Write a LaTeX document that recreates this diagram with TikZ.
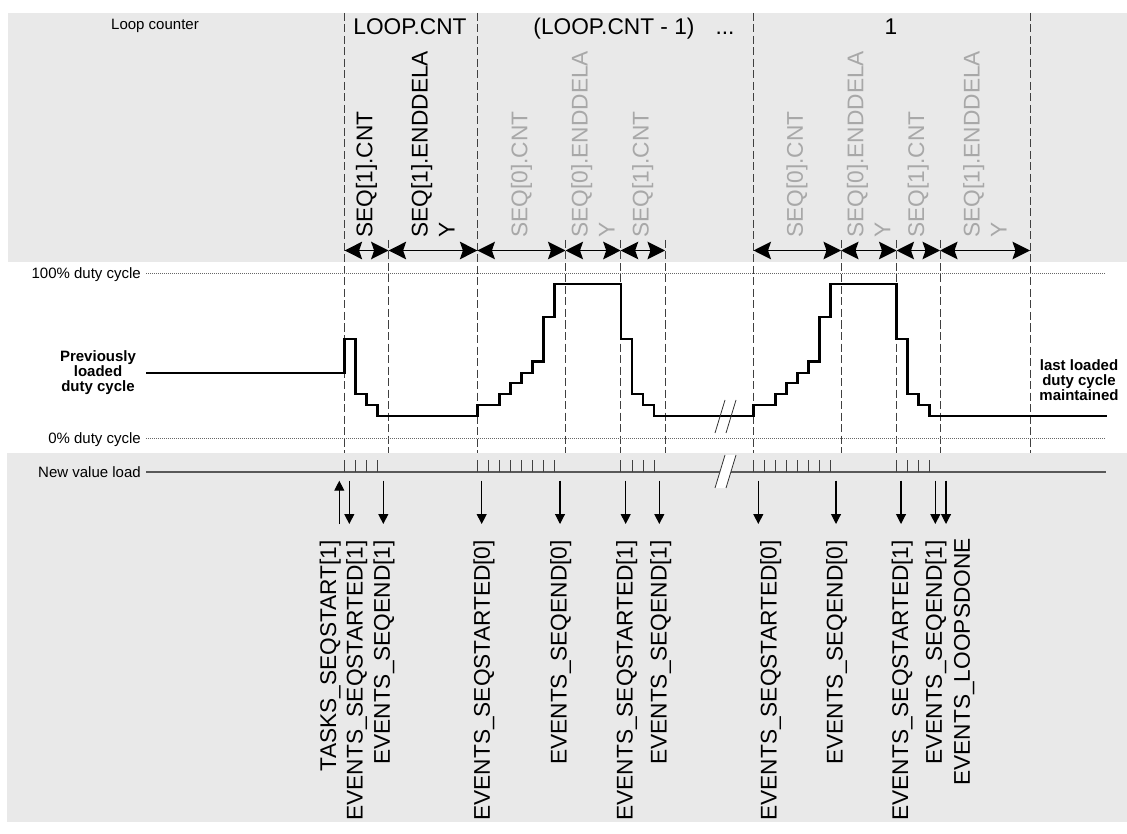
\documentclass[tikz,border=0pt]{standalone}
\usepackage{fontspec}
\setmainfont{Liberation Sans}
\usetikzlibrary{arrows.meta}
\definecolor{panel}{RGB}{233,233,233}
\definecolor{ghost}{RGB}{168,168,168}
\begin{document}
\begin{tikzpicture}[x=1pt,y=-1pt,
  big/.style={font=\fontsize{22.7}{27}\selectfont, inner sep=0pt},
  small/.style={font=\fontsize{15}{15}\selectfont, inner sep=0pt},
  boldlbl/.style={font=\fontsize{15}{15}\selectfont\bfseries, align=center, inner sep=0pt},
  seglbl/.style={big, rotate=90, anchor=west, align=left},
  evlbl/.style={big, rotate=90, anchor=base east},
  divider/.style={draw=black!75, line width=0.9pt, dash pattern=on 8pt off 3.5pt},
  span/.style={arrows={Stealth[length=17.5pt,width=17.5pt,inset=3pt]-Stealth[length=17.5pt,width=17.5pt,inset=3pt]}, line width=1.7pt},
  evarrow/.style={arrows={-Triangle[length=10pt,width=10pt]}, line width=1.1pt},
  level/.style={draw=black!60, line width=0.8pt, dash pattern=on 1pt off 1pt},
  wave/.style={line width=2.3pt, line join=miter},
  tickmark/.style={draw=black!75, line width=0.8pt},
  breakline/.style={draw=black!80, line width=0.8pt},
]
\useasboundingbox (0,0) rectangle (1127,834);
\fill[white] (0,0) rectangle (1127,834);
% panels
\fill[panel] (8,13) rectangle (1127,262);
\fill[panel] (7,453) rectangle (1127,822);

% dashed dividers (full height)
\foreach \x [count=\i] in {344.6,477.4,753.5,1030} {
  \coordinate (ft\i) at (\x,13);
  \coordinate (fb\i) at (\x,453);
  \draw[divider] (ft\i) -- (fb\i);
}
% dashed dividers (short)
\foreach \x [count=\i] in {388.6,565.5,620.7,665,841,896.5,940} {
  \coordinate (st\i) at (\x,240);
  \coordinate (sb\i) at (\x,453);
  \draw[divider] (st\i) -- (sb\i);
}

% loop counter row
\node[small, anchor=base] (lc) at (155,29.3) {Loop counter};
\node[big, anchor=base] (n1) at (410,35) {LOOP.CNT};
\node[big, anchor=base] (n2) at (614,35) {(LOOP.CNT - 1)};
\node[big, anchor=base] (n3) at (725,35) {...};
\node[big, anchor=base] (n4) at (891,35) {1};

% span arrows
\foreach \x [count=\i] in {344.6,388.6,477.4,565.5,620.7,665,753.5,841,896.5,940,1030} {
  \coordinate (a\i) at (\x,250.5);
}
\draw[span] (a1) -- (a2);
\draw[span] (a2) -- (a3);
\draw[span] (a3) -- (a4);
\draw[span] (a4) -- (a5);
\draw[span] (a5) -- (a6);
\draw[span] (a7) -- (a8);
\draw[span] (a8) -- (a9);
\draw[span] (a9) -- (a10);
\draw[span] (a10) -- (a11);

% span labels
\node[seglbl] (s1) at (366.6,238) {SEQ[1].CNT};
\node[seglbl] (s2) at (433,238) {SEQ[1].ENDDELA\\Y};
\node[seglbl, text=ghost] (s3) at (521.5,238) {SEQ[0].CNT};
\node[seglbl, text=ghost] (s4) at (593,238) {SEQ[0].ENDDELA\\Y};
\node[seglbl, text=ghost] (s5) at (642.8,238) {SEQ[1].CNT};
\node[seglbl, text=ghost] (s6) at (797,238) {SEQ[0].CNT};
\node[seglbl, text=ghost] (s7) at (868.7,238) {SEQ[0].ENDDELA\\Y};
\node[seglbl, text=ghost] (s8) at (918.2,238) {SEQ[1].CNT};
\node[seglbl, text=ghost] (s9) at (985,238) {SEQ[1].ENDDELA\\Y};

% duty cycle levels
\coordinate (hi0) at (146,273); \coordinate (hi1) at (1106,273);
\coordinate (lo0) at (146,438); \coordinate (lo1) at (1106,438);
\draw[level] (hi0) -- (hi1);
\draw[level] (lo0) -- (lo1);
\node[small, anchor=base east] (l100) at (141,278.5) {100\% duty cycle};
\node[small, anchor=base east] (l0) at (141,443.5) {0\% duty cycle};

\node[boldlbl] (prev) at (98,373) {Previously\\loaded\\duty cycle};
\node[boldlbl] (last) at (1079,380.5) {last loaded\\duty cycle\\maintained};

% waveform
\draw[wave] (146,372.7) -- (344.6,372.7) -- (344.6,339.3) -- (355.6,339.3)
  -- (355.6,394.3) -- (366.6,394.3) -- (366.6,405.3) -- (377.6,405.3)
  -- (377.6,416) -- (477.4,416) -- (477.4,405.3) -- (499.4,405.3)
  -- (499.4,394.3) -- (510.4,394.3) -- (510.4,383.3) -- (521.4,383.3)
  -- (521.4,372.7) -- (532.4,372.7) -- (532.4,361.5) -- (543.4,361.5)
  -- (543.4,317.3) -- (554.4,317.3) -- (554.4,284) -- (620.7,284)
  -- (620.7,339.3) -- (632,339.3) -- (632,394.3) -- (643,394.3)
  -- (643,405.3) -- (654,405.3) -- (654,416) -- (753.5,416)
  -- (753.5,405.3) -- (775.5,405.3) -- (775.5,394.3) -- (786.5,394.3)
  -- (786.5,383.3) -- (797.5,383.3) -- (797.5,372.7) -- (808.5,372.7)
  -- (808.5,361.5) -- (819.5,361.5) -- (819.5,317.3) -- (830.5,317.3)
  -- (830.5,284) -- (896.5,284) -- (896.5,339.3) -- (907.5,339.3)
  -- (907.5,394.3) -- (918.5,394.3) -- (918.5,405.3) -- (929.5,405.3)
  -- (929.5,416) -- (1106.5,416);
% break marks on waveform
\draw[breakline] (715,433) -- (725,400);
\draw[breakline] (726,433) -- (736,400);

% new value load line
\coordinate (nv0) at (146,472); \coordinate (nv1) at (1106,472);
\draw[draw=black!65, line width=1.2pt] (nv0) -- (nv1);
\node[small, anchor=base east] (lnv) at (141,477.5) {New value load};
\foreach \x in {344.6,355.6,366.6,377.6,
                477.4,488.4,499.4,510.4,521.4,532.4,543.4,554.4,
                620.7,632,643,654,
                753.5,764.5,775.5,786.5,797.5,808.5,819.5,830.5,
                896.5,907.5,918.5,929.5} {
  \draw[tickmark] (\x,460) -- (\x,472);
}
% break on load line
\fill[white] (715,488) -- (726,488) -- (736,455) -- (725,455) -- cycle;
\draw[breakline] (715,488) -- (725,455);
\draw[breakline] (726,488) -- (736,455);

% event arrows
\coordinate (ut) at (339.3,480.7); \coordinate (ub) at (339.3,524);
\draw[evarrow] (ub) -- (ut);
\foreach \x [count=\i] in {349.3,383.3,481.7,560,625.7,659.3,758.3,836,901,935.3,946} {
  \coordinate (et\i) at (\x,480.7);
  \coordinate (eb\i) at (\x,524);
  \draw[evarrow] (et\i) -- (eb\i);
}

% event labels
\node[evlbl] (e0) at (336,540) {TASKS\_SEQSTART[1]};
\node[evlbl] (e1) at (362.5,540) {EVENTS\_SEQSTARTED[1]};
\node[evlbl] (e2) at (389.9,540) {EVENTS\_SEQEND[1]};
\node[evlbl] (e3) at (489.9,540) {EVENTS\_SEQSTARTED[0]};
\node[evlbl] (e4) at (566.5,540) {EVENTS\_SEQEND[0]};
\node[evlbl] (e5) at (632.5,540) {EVENTS\_SEQSTARTED[1]};
\node[evlbl] (e6) at (666.5,540) {EVENTS\_SEQEND[1]};
\node[evlbl] (e7) at (776.5,540) {EVENTS\_SEQSTARTED[0]};
\node[evlbl] (e8) at (842.5,540) {EVENTS\_SEQEND[0]};
\node[evlbl] (e9) at (908.2,540) {EVENTS\_SEQSTARTED[1]};
\node[evlbl] (e10) at (941.9,540) {EVENTS\_SEQEND[1]};
\node[evlbl] (e11) at (969.9,538) {EVENTS\_LOOPSDONE};
\end{tikzpicture}
\end{document}
